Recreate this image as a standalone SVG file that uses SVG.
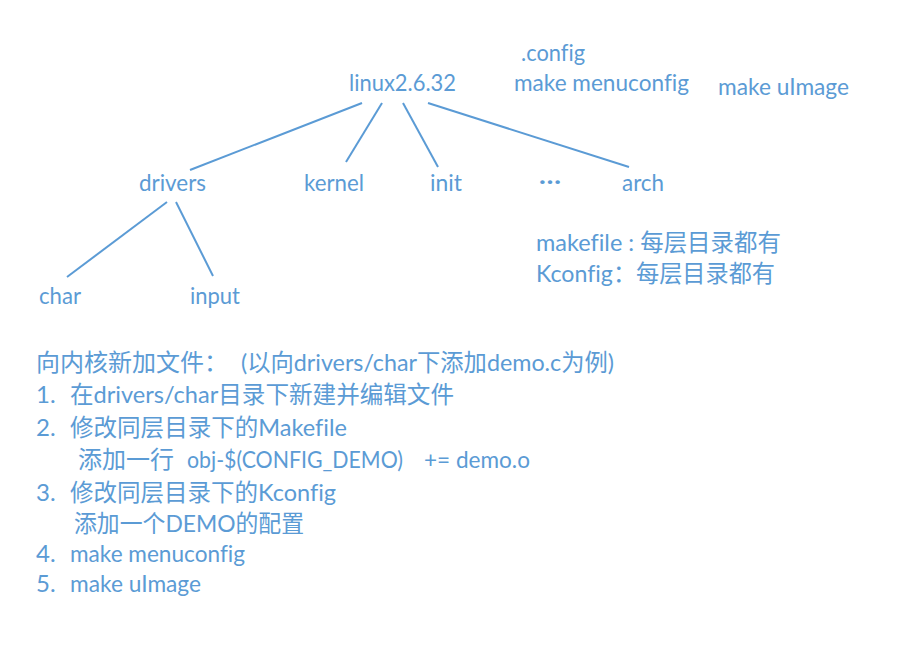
<svg xmlns="http://www.w3.org/2000/svg" width="913" height="661" viewBox="0 0 913 661">
<style>
text{font-family:Lato,"Noto Sans CJK SC",sans-serif;font-size:24px;fill:#5b9bd5;font-variant-ligatures:none}
.e{font-weight:bold}
line{stroke:#5b9bd5;stroke-width:2}
</style>
<rect width="913" height="661" fill="#fff"/>
<g id="connectors">
<line x1="362" y1="103" x2="190" y2="170"/>
<line x1="382" y1="103" x2="346" y2="162"/>
<line x1="403" y1="103" x2="438" y2="167"/>
<line x1="428" y1="103" x2="629" y2="167"/>
<line x1="167" y1="202" x2="67" y2="277"/>
<line x1="176" y1="202" x2="213" y2="276"/>
</g>
<g id="linux"><text x="349" y="91" textLength="107" lengthAdjust="spacingAndGlyphs">linux2.6.32</text></g>
<g id="config"><text x="521" y="61" textLength="64" lengthAdjust="spacingAndGlyphs">.config</text></g>
<g id="menuconfig"><text x="514" y="91" textLength="175" lengthAdjust="spacingAndGlyphs">make menuconfig</text></g>
<g id="uimage"><text x="718" y="95" textLength="131" lengthAdjust="spacingAndGlyphs">make uImage</text></g>
<g id="drivers"><text x="139" y="191" textLength="67" lengthAdjust="spacingAndGlyphs">drivers</text></g>
<g id="kernel"><text x="304" y="191" textLength="60" lengthAdjust="spacingAndGlyphs">kernel</text></g>
<g id="init"><text x="430" y="191" textLength="32" lengthAdjust="spacingAndGlyphs">init</text></g>
<g id="more"><text class="e" x="539" y="184" textLength="22" lengthAdjust="spacingAndGlyphs">…</text></g>
<g id="arch"><text x="622" y="191" textLength="42" lengthAdjust="spacingAndGlyphs">arch</text></g>
<g id="char"><text x="39" y="304" textLength="42" lengthAdjust="spacingAndGlyphs">char</text></g>
<g id="input"><text x="190" y="304" textLength="50" lengthAdjust="spacingAndGlyphs">input</text></g>
<g id="notes">
<text x="536" y="251" textLength="245" lengthAdjust="spacingAndGlyphs">makefile : 每层目录都有</text>
<text x="536" y="282" textLength="239" lengthAdjust="spacingAndGlyphs">Kconfig：每层目录都有</text>
</g>
<g id="steps">
<text x="36" y="371">向内核新加文件：</text>
<text x="241" y="371" textLength="373" lengthAdjust="spacingAndGlyphs">(以向drivers/char下添加demo.c为例)</text>
<text x="36" y="403">1.</text>
<text x="70" y="403" textLength="384" lengthAdjust="spacingAndGlyphs">在drivers/char目录下新建并编辑文件</text>
<text x="36" y="436">2.</text>
<text x="70" y="436" textLength="277" lengthAdjust="spacingAndGlyphs">修改同层目录下的Makefile</text>
<text x="78" y="468">添加一行</text>
<text x="187" y="468" textLength="216" lengthAdjust="spacingAndGlyphs">obj-$(CONFIG_DEMO)</text>
<text x="424" y="468" textLength="106" lengthAdjust="spacingAndGlyphs">+= demo.o</text>
<text x="36" y="501">3.</text>
<text x="70" y="501" textLength="266" lengthAdjust="spacingAndGlyphs">修改同层目录下的Kconfig</text>
<text x="74" y="532" textLength="230" lengthAdjust="spacingAndGlyphs">添加一个DEMO的配置</text>
<text x="36" y="562">4.</text>
<text x="70" y="562" textLength="175" lengthAdjust="spacingAndGlyphs">make menuconfig</text>
<text x="36" y="592">5.</text>
<text x="70" y="592" textLength="131" lengthAdjust="spacingAndGlyphs">make uImage</text>
</g>
</svg>
